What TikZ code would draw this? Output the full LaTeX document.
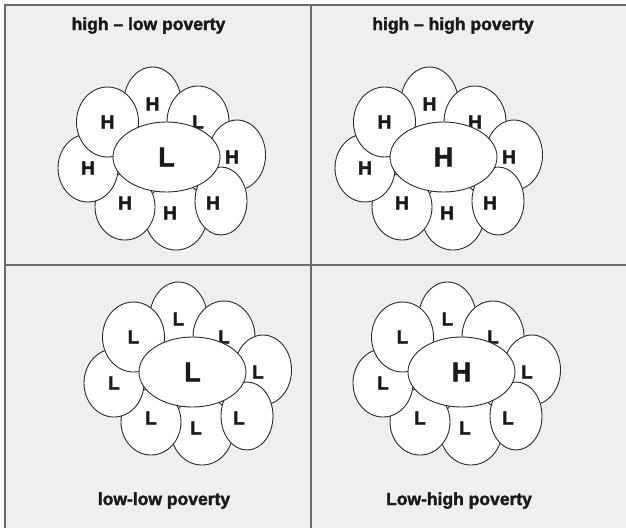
\documentclass[tikz,border=0pt]{standalone}
\usepackage{fontspec}
\setmainfont{Liberation Sans}[BoldFeatures={FakeBold=2}]
\usetikzlibrary{shapes.geometric}
\definecolor{panelbg}{HTML}{EEEFEF}
\definecolor{rulegray}{HTML}{6B6B6B}
\definecolor{inkline}{HTML}{2B2B2B}
\definecolor{inktext}{HTML}{1A1A1A}

\tikzset{
  blob/.style={ellipse,draw=inkline,fill=white,line width=0.9pt,inner sep=0pt,
    text=inktext,font=\fontsize{19}{19}\selectfont\bfseries},
  hub/.style={blob,minimum width=107,minimum height=70,font=\fontsize{27}{27}\selectfont\bfseries},
  letter/.style={text=inktext,inner sep=0pt,font=\fontsize{19}{19}\selectfont\bfseries},
  caption/.style={anchor=base,text=inktext,font=\fontsize{17.5}{18}\selectfont\bfseries},
}

% one cluster: #1 name prefix, #2 centre, #3 hub letter, #4 outer letter, #5 letter of the upper right blob
\newcommand{\povcluster}[5]{%
  \begin{scope}[shift={#2}]
    \node[blob,minimum width=58,minimum height=74] (#1top) at (-14,-53) {#4};
    \node[blob,minimum width=62,minimum height=68,
      label={[letter,xshift=-6pt,yshift=3pt]center:#4}] (#1b) at (9.5,59) {};
    \node[blob,minimum width=62,minimum height=72] (#1ur) at (31.5,-35) {#5};
    \node[blob,minimum width=57,minimum height=70,
      label={[letter,xshift=-5pt,yshift=-2pt]center:#4}] (#1r) at (70.5,-2) {};
    \node[blob,minimum width=52,minimum height=68,
      label={[letter,xshift=-8pt,yshift=-2pt]center:#4}] (#1br) at (54.5,44) {};
    \node[blob,minimum width=60,minimum height=66,
      label={[letter,yshift=4pt]center:#4}] (#1bl) at (-41.5,50) {};
    \node[blob,minimum width=60,minimum height=68] (#1l) at (-78.5,11) {#4};
    \node[blob,minimum width=62,minimum height=70] (#1ul) at (-59,-35) {#4};
    \node[hub] (#1hub) at (0,0) {#3};
  \end{scope}}

\begin{document}
\begin{tikzpicture}[x=1pt,y=-1pt]
  \useasboundingbox (0,0) rectangle (626,528);

  % panels
  \fill[panelbg] (5,5) rectangle (626,528);
  \draw[rulegray,line width=1.3pt] (5,528) -- (5,5) -- (626,5);
  \draw[rulegray,line width=1.3pt] (311,5) -- (311,528);
  \draw[rulegray,line width=1.3pt] (5,265) -- (626,265);

  % clusters
  \povcluster{hl}{(166.5,157)}{L}{H}{L}
  \povcluster{hh}{(443.5,157)}{H}{H}{H}
  \povcluster{ll}{(192.5,372)}{L}{L}{L}
  \povcluster{lh}{(461.5,372)}{H}{L}{L}

  % titles
  \node[caption] (hltitle) at (148.5,30) {high -- low poverty};
  \node[caption] (hhtitle) at (453,30) {high -- high poverty};
  \node[caption] (lltitle) at (164,505) {low-low poverty};
  \node[caption] (lhtitle) at (459,505) {Low-high poverty};
\end{tikzpicture}
\end{document}
